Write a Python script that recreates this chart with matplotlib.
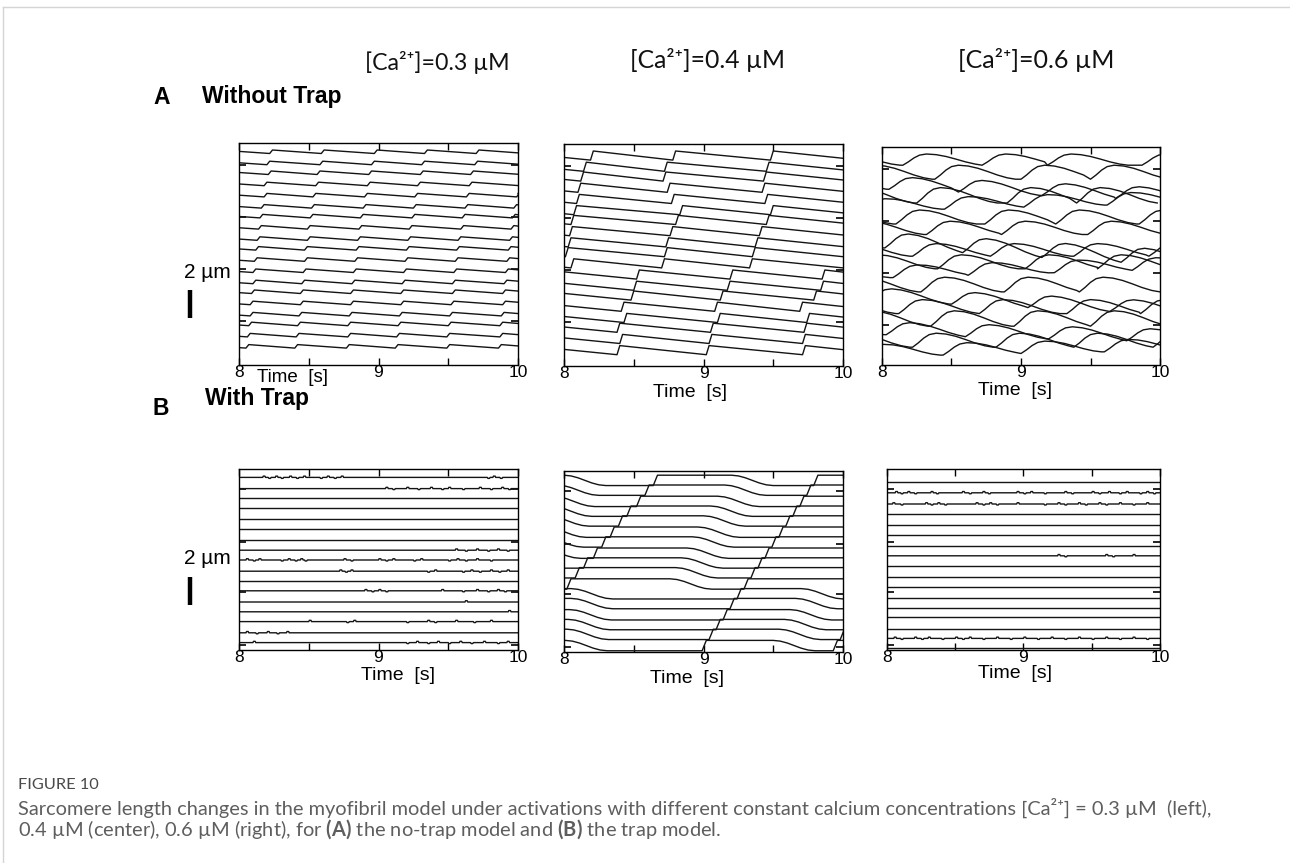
import matplotlib
matplotlib.use('Agg')
import matplotlib.pyplot as plt
import matplotlib.transforms as mtransforms
from matplotlib.lines import Line2D

plt.rcParams['font.family'] = ['Liberation Sans', 'DejaVu Sans']
plt.rcParams['mathtext.fontset'] = 'custom'
plt.rcParams['mathtext.rm'] = 'Lato'
plt.rcParams['mathtext.bf'] = 'Lato:bold'

HUMAN = ['Lato', 'DejaVu Sans']

# ---------------- data ----------------
ca_titles = ['[Ca²⁺]=0.3 µM', '[Ca²⁺]=0.4 µM', '[Ca²⁺]=0.6 µM']
time_ticks = [8, 8.5, 9, 9.5, 10]
time_labels = ['8', '', '9', '', '10']

# A, 0.3 uM : resting level of each trace (um from top) and times of the small steps (s)
a03_base = [0.5, 1.3, 2.0, 2.8, 3.6, 4.4, 5.1, 5.9, 6.7, 7.4, 8.2, 9.0, 9.8, 10.5, 11.3, 12.1, 12.8, 13.6, 14.4]
a03_steps = [
    [8.22, 8.59, 8.97, 9.33, 9.70],
    [8.20, 8.58, 8.95, 9.31, 9.69],
    [8.21, 8.56, 8.93, 9.30, 9.66],
    [8.18, 8.55, 8.92, 9.28, 9.65],
    [8.18, 8.53, 8.90, 9.26, 9.63, 9.99],
    [8.16, 8.52, 8.89, 9.25, 9.62, 9.97],
    [8.15, 8.51, 8.87, 9.24, 9.60, 9.96],
    [8.14, 8.49, 8.86, 9.22, 9.59, 9.95],
    [8.13, 8.49, 8.85, 9.21, 9.57, 9.94],
    [8.12, 8.47, 8.84, 9.20, 9.56, 9.93],
    [8.11, 8.47, 8.83, 9.19, 9.55, 9.92],
    [8.10, 8.46, 8.82, 9.18, 9.54, 9.91],
    [8.10, 8.45, 8.81, 9.17, 9.53, 9.90],
    [8.09, 8.44, 8.80, 9.16, 9.53, 9.89],
    [8.08, 8.44, 8.80, 9.16, 9.52, 9.89],
    [8.08, 8.43, 8.79, 9.15, 9.51, 9.88],
    [8.07, 8.42, 8.78, 9.14, 9.50, 9.87],
    [8.06, 8.41, 8.78, 9.13, 9.49, 9.87],
    [8.05, 8.40, 8.77, 9.12, 9.49, 9.86],
]

# A, 0.4 uM : larger steps, two slanted bands
a04_base = [0.5, 1.3, 2.0, 2.8, 3.6, 4.4, 5.1, 5.9, 6.7, 7.4, 8.2, 9.0, 9.8, 10.5, 11.3, 12.1, 12.8, 13.6, 14.4]
a04_steps = [
    [8.19, 8.78, 9.48],
    [8.14, 8.72, 9.45],
    [8.12, 8.71, 9.43],
    [8.10, 8.74, 9.42],
    [8.09, 8.77, 9.44],
    [8.07, 8.83, 9.48],
    [8.05, 8.80, 9.45],
    [8.04, 8.76, 9.40],
    [8.03, 8.73, 9.37],
    [8.01, 8.72, 9.35],
    [8.05, 8.70, 9.33],
    [8.52, 9.19, 9.85],
    [8.50, 9.17, 9.84],
    [8.48, 9.12, 9.79],
    [8.41, 9.08, 9.69],
    [8.43, 9.10, 9.74],
    [8.38, 9.05, 9.72],
    [8.40, 9.04, 9.71],
    [8.38, 9.02, 9.71],
]

# A, 0.6 uM : rise times of the waves, wave height and slow drift (um over 2 s)
a06_base = [0.5, 1.3, 2.1, 2.9, 3.7, 4.5, 5.3, 6.1, 6.9, 7.7, 8.5, 9.3, 10.1, 10.9, 11.7, 12.5, 13.3, 14.1]
a06_rises = [
    [8.15, 8.72, 9.19, 9.87],
    [8.38, 9.00, 9.50],
    [8.05, 8.55, 9.15, 9.68],
    [8.25, 8.90, 9.40],
    [8.45, 9.02, 9.62],
    [8.10, 8.74, 9.25, 9.85],
    [8.32, 8.86, 9.48],
    [8.02, 8.58, 9.15, 9.72],
    [8.22, 8.78, 9.38, 9.92],
    [8.40, 9.03, 9.55],
    [8.08, 8.62, 9.24, 9.80],
    [8.28, 8.88, 9.42],
    [8.50, 9.05, 9.64],
    [8.12, 8.70, 9.33, 9.86],
    [8.35, 8.95, 9.50],
    [8.03, 8.60, 9.20, 9.76],
    [8.22, 8.82, 9.38, 9.95],
    [8.44, 9.00, 9.60],
]
a06_amp = [0.8, 1.0, 0.9, 1.1, 0.85, 1.0, 0.95, 1.1, 0.9, 1.0, 0.85, 1.05, 0.9, 1.0, 1.1, 0.9, 1.0, 0.85]
a06_drift = [0, 0, 0.8, 0, -0.5, 0, 0, 1.2, 0, 0, -0.6, 0, 0.9, 0, 0, 0.5, 0, -0.4]

# B, 0.3 uM : flat traces, times of small noise blips
b03_base = [0.6, 1.4, 2.1, 2.8, 3.6, 4.3, 5.1, 5.8, 6.5, 7.3, 8.0, 8.7, 9.5, 10.2, 10.9, 11.7, 12.4]
b03_blips = [
    [8.17, 8.21, 8.26, 8.30, 8.36, 8.41, 8.46, 8.58, 8.63, 8.68, 8.73, 9.78, 9.82, 9.87],
    [9.05, 9.10, 9.20, 9.28, 9.37, 9.45, 9.50, 9.60, 9.72, 9.80, 9.88, 9.93],
    [], [], [], [], [],
    [9.55, 9.62, 9.70, 9.78, 9.85, 9.92],
    [8.05, 8.10, 8.14, 8.30, 8.35, 8.40, 8.44, 8.47, 8.75, 8.80, 9.00, 9.05, 9.10, 9.25, 9.30, 9.50, 9.56, 9.62, 9.70, 9.80],
    [8.72, 8.76, 8.80, 9.35, 9.40, 9.60, 9.66, 9.72, 9.80, 9.86, 9.92],
    [],
    [8.90, 8.95, 9.00, 9.05, 9.45, 9.60, 9.70, 9.78, 9.85, 9.90],
    [9.62],
    [9.93],
    [8.50, 8.77, 8.82, 9.20, 9.35, 9.40, 9.55, 9.68, 9.80],
    [8.05, 8.12, 8.20, 8.27, 8.34],
    [8.10, 9.20, 9.27, 9.35, 9.42, 9.50, 9.58, 9.66, 9.75, 9.85, 9.92],
]

# B, 0.4 uM : step-up times (two bands) and start of slow descents
b04_base = [0.3, 1.0, 1.8, 2.5, 3.2, 4.0, 4.7, 5.5, 6.2, 6.9, 7.7, 8.4, 9.1, 9.9, 10.6, 11.3, 12.1]
b04_steps = [
    [8.64, 9.79], [8.58, 9.74], [8.52, 9.69], [8.45, 9.64], [8.39, 9.59], [8.33, 9.54],
    [8.27, 9.49], [8.21, 9.44], [8.14, 9.39], [8.08, 9.34], [8.02, 9.29],
    [9.24], [9.19], [9.14], [9.09], [9.04, 9.98], [8.99, 9.93],
]
b04_descents = [
    [8.00, 9.20], [7.95, 9.15], [7.92, 9.10], [7.90, 9.05], [7.88, 9.00], [7.86, 8.96],
    [7.84, 8.92], [7.82, 8.88], [8.84], [8.80], [8.76],
    [8.05, 9.70], [8.05, 9.66], [8.04, 9.62], [8.03, 9.58], [8.02, 9.54], [8.01, 9.50],
]

# B, 0.6 uM : flat traces, times of small noise blips
b06_base = [0.9, 1.7, 2.5, 3.2, 4.0, 4.7, 5.5, 6.2, 6.9, 7.7, 8.4, 9.2, 9.9, 10.6, 11.4, 12.1, 12.8]
b06_blips = [
    [],
    [8.06, 8.10, 8.15, 8.20, 8.32, 8.36, 8.55, 8.60, 8.70, 8.74, 8.95, 9.00, 9.05, 9.15, 9.30, 9.35, 9.50, 9.55, 9.62, 9.70, 9.75, 9.85, 9.90, 9.95],
    [8.04, 8.10, 8.28, 8.32, 8.37, 8.42, 8.65, 8.70, 8.75, 8.80, 8.95, 9.15, 9.25, 9.30, 9.40, 9.45, 9.55, 9.60, 9.70, 9.80, 9.90],
    [], [], [], [],
    [9.25, 9.30, 9.60, 9.65, 9.80],
    [], [], [], [], [], [], [],
    [8.05, 8.10, 8.20, 8.25, 8.30, 8.40, 8.50, 8.55, 8.60, 8.70, 8.80, 8.90, 9.00, 9.10, 9.20, 9.30, 9.40, 9.50, 9.60, 9.70, 9.80, 9.90],
    [],
]

# ---------------- trace shapes ----------------
hump_dt = [0, 0.04, 0.08, 0.12, 0.17, 0.24, 0.31, 0.38, 0.45, 0.52, 0.58]
hump_lv = [1.0, 0.7, 0.35, 0.1, 0.0, 0.06, 0.22, 0.45, 0.7, 0.9, 1.0]
desc_dt = [0, 0.05, 0.10, 0.15, 0.20, 0.25, 0.30]
desc_lv = [0, 0.07, 0.25, 0.5, 0.75, 0.93, 1.0]


def saw_trace(steps, base, amp, period):
    f = max(0.0, 1 - (steps[0] - 8) / period)
    ts, ys = [8.0], [base + amp * f]
    for s in steps:
        ts += [s, s + 0.02]
        ys += [base + amp, base]
    ts.append(10.0)
    ys.append(base + amp * min(1.0, (10 - steps[-1]) / period))
    return ts, ys


def hump_trace(rises, base, amp, drift):
    starts = [rises[0] - 0.6] + list(rises) + [10.6]
    ts, lv = [], []
    for i, tr in enumerate(starts[:-1]):
        for dt, l in zip(hump_dt, hump_lv):
            if tr + dt < starts[i + 1]:
                ts.append(tr + dt)
                lv.append(l)
    ys = [base + amp * l + drift * (t - 8) / 2 for t, l in zip(ts, lv)]
    return ts, ys


def flat_trace(blips, base):
    ts, ys = [8.0], [base]
    for i, b in enumerate(blips):
        h = 0.09 if i % 2 == 0 else -0.07
        ts += [b, b + 0.004, b + 0.016, b + 0.02]
        ys += [base, base - h, base - h, base]
    ts.append(10.0)
    ys.append(base)
    return ts, ys


def step_trace(steps, descents, base, s):
    ev = sorted([(t, 'u') for t in steps] + [(t, 'd') for t in descents])
    lv = 1.0 if ev[0][1] == 'u' else 0.0
    ts, lvs = [7.8], [lv]
    for t, kind in ev:
        if kind == 'u':
            ts += [t, t + 0.03]
            lvs += [1.0, 0.0]
            lv = 0.0
        else:
            for dt, l in zip(desc_dt, desc_lv):
                ts.append(t + dt)
                lvs.append(l)
            lv = 1.0
    ts.append(10.2)
    lvs.append(lv)
    return ts, [base + s * l for l in lvs]


# ---------------- figure ----------------
W, H = 1290, 863
fig = plt.figure(figsize=(W / 100, H / 100), dpi=100)
renderer = fig.canvas.get_renderer()


def px_axes(x0, y0, x1, y1):
    return fig.add_axes([x0 / W, 1 - y1 / H, (x1 - x0) / W, (y1 - y0) / H])


def fit_text(x, y, s, width, **kw):
    t = fig.text(x / W, 1 - y / H, s, **kw)
    w = t.get_window_extent(renderer).width
    t.set_fontsize(t.get_fontsize() * width / w)
    return t


PX_PER_UM = 14.0
panels = {
    'a03': dict(box=(239, 143, 518, 365), ticks=[1.6, 5.3, 9.0, 12.7], tx=0.19, ty=377),
    'a04': dict(box=(564, 144, 843, 366), ticks=[1.6, 5.3, 9.0, 12.7], tx=0.45, ty=392),
    'a06': dict(box=(882, 147, 1160, 365), ticks=[1.6, 5.3, 9.0, 12.7], tx=0.48, ty=390),
    'b03': dict(box=(239, 469, 518, 650), ticks=[1.4, 5.2, 8.8, 12.6], tx=0.57, ty=675),
    'b04': dict(box=(564, 471, 843, 652), ticks=[1.4, 5.2, 8.8, 12.6], tx=0.44, ty=678),
    'b06': dict(box=(887, 469, 1160, 650), ticks=[1.4, 5.2, 8.8, 12.6], tx=0.47, ty=673),
}

axes = {}
for key, p in panels.items():
    x0, y0, x1, y1 = p['box']
    ax = px_axes(x0, y0, x1, y1)
    ax.set_xlim(8, 10)
    ax.set_ylim((y1 - y0) / PX_PER_UM, 0)
    ax.set_xticks(time_ticks)
    ax.set_xticklabels(time_labels)
    ax.set_yticks(p['ticks'])
    ax.set_yticklabels([])
    ax.tick_params(axis='x', direction='in', top=True, length=5, width=1,
                   labelsize=12.5, pad=0)
    ax.tick_params(axis='y', direction='in', right=True, length=5, width=1.2)
    for sp in ax.spines.values():
        sp.set_linewidth(1.0)
    yc = 1 - (p['ty'] - y0) / (y1 - y0)
    ax.text(p['tx'], yc, 'Time  [s]', transform=ax.transAxes, ha='center',
            va='center', fontsize=13.5 if key == 'a03' else 14)
    axes[key] = ax

line_kw = dict(color='#141414', lw=1.0)

for steps, base in zip(a03_steps, a03_base):
    axes['a03'].plot(*saw_trace(steps, base, 0.25, 0.365), **line_kw)
for steps, base in zip(a04_steps, a04_base):
    axes['a04'].plot(*saw_trace(steps, base, 0.65, 0.65), **line_kw)
for rises, base, amp, dr in zip(a06_rises, a06_base, a06_amp, a06_drift):
    axes['a06'].plot(*hump_trace(rises, base, amp, dr), **line_kw)
for blips, base in zip(b03_blips, b03_base):
    axes['b03'].plot(*flat_trace(blips, base), **line_kw)
for steps, desc, base in zip(b04_steps, b04_descents, b04_base):
    axes['b04'].plot(*step_trace(steps, desc, base, 0.74), **line_kw)
for blips, base in zip(b06_blips, b06_base):
    axes['b06'].plot(*flat_trace(blips, base), **line_kw)

# 2 um scale bars
for key, top, ylab in [('a03', (290 - 143) / PX_PER_UM, 272), ('b03', (577 - 469) / PX_PER_UM, 558)]:
    ax = axes[key]
    tr = mtransforms.blended_transform_factory(ax.transAxes, ax.transData)
    ax.plot([-0.176, -0.176], [top, top + 2], transform=tr, color='black', lw=3.2,
            solid_capstyle='butt', clip_on=False)
    fig.text(207 / W, 1 - ylab / H, '2 µm', ha='center', va='center', fontsize=15)

# column titles
for (cx, cy, wd), s in zip([(437, 62, 145), (707, 60, 155), (1036, 60, 157)], ca_titles):
    fit_text(cx, cy, s, wd, ha='center', va='center', fontsize=16, family=HUMAN, color='#111111')

# row headers
fig.text(153 / W, 1 - 98 / H, 'A', fontsize=16.5, fontweight='bold', va='center')
fig.text(202 / W, 1 - 96 / H, 'Without Trap', fontsize=16.5, fontweight='bold', va='center')
fig.text(153 / W, 1 - 408 / H, 'B', fontsize=16.5, fontweight='bold', va='center')
fig.text(205 / W, 1 - 399 / H, 'With Trap', fontsize=16.5, fontweight='bold', va='center')

# caption
fit_text(18, 785, 'FIGURE 10', 80, ha='left', va='center', fontsize=13, family=HUMAN, color='#4a4a4a')
cap1 = fit_text(18, 808, 'Sarcomere length changes in the myofibril model under activations with different '
                'constant calcium concentrations [Ca²⁺] = 0.3 µM  (left),', 1192,
                ha='left', va='center', fontsize=12, family=HUMAN, color='#5e5e5e')
fig.text(18 / W, 1 - 829 / H, '0.4 µM (center), 0.6 µM (right), for $\\mathbf{(A)}$ the no-trap model '
         'and $\\mathbf{(B)}$ the trap model.', ha='left', va='center',
         fontsize=cap1.get_fontsize(), family=HUMAN, color='#5e5e5e')

# page frame
fig.add_artist(Line2D([3 / W, 1], [1 - 7 / H, 1 - 7 / H], color='#d4d4d4', lw=1))
fig.add_artist(Line2D([3 / W, 3 / W], [0, 1 - 7 / H], color='#d4d4d4', lw=1))

fig.savefig('out.png', dpi=100)
